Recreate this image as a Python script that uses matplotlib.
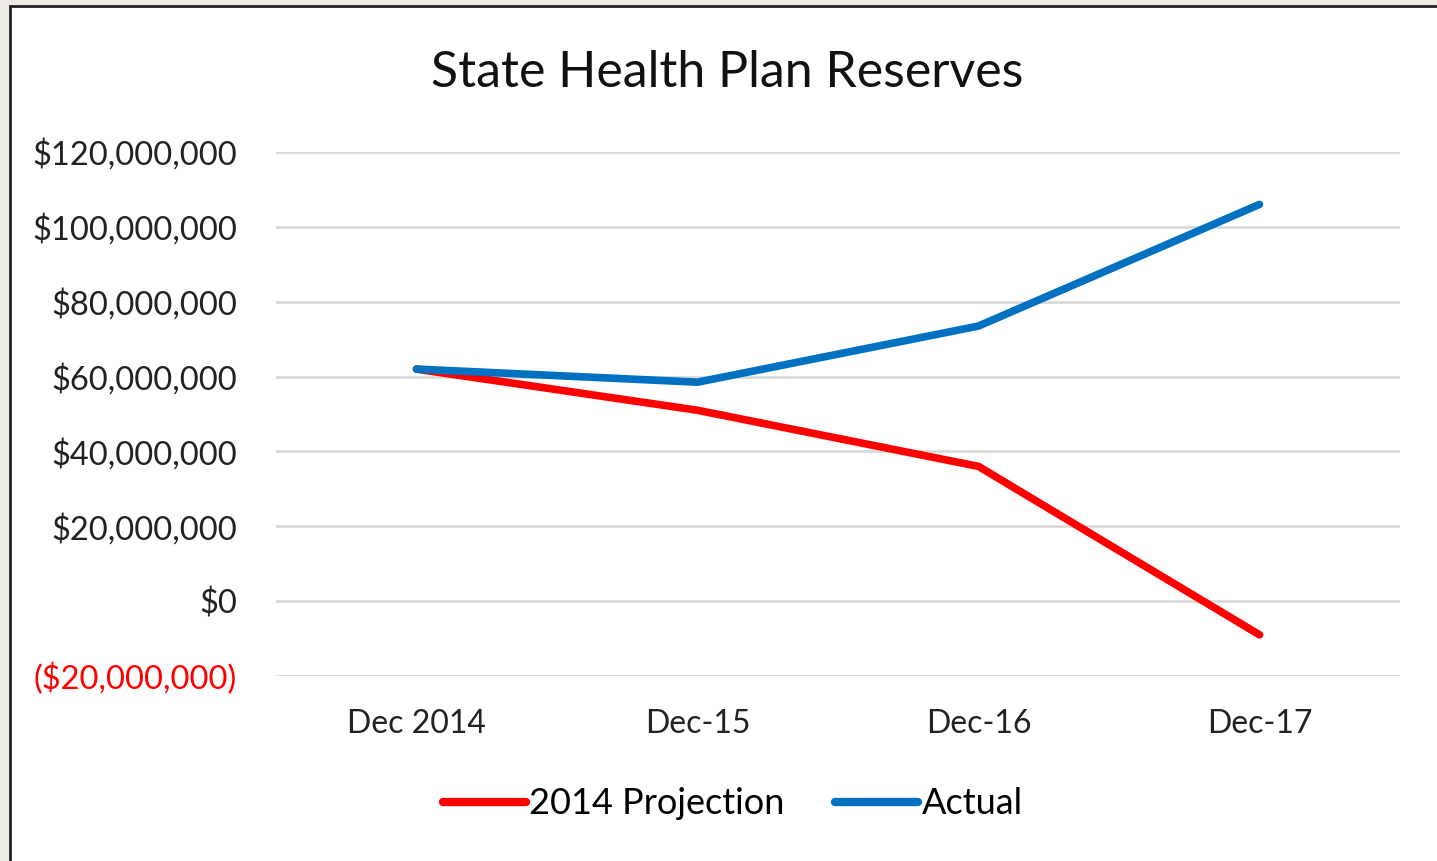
import matplotlib

matplotlib.use("Agg")

import matplotlib.pyplot as plt
from matplotlib.patches import Rectangle
from matplotlib.ticker import FuncFormatter, MultipleLocator

categories = ["Dec 2014", "Dec-15", "Dec-16", "Dec-17"]
projection_2014 = [62_000_000, 51_000_000, 36_000_000, -9_000_000]
actual = [62_000_000, 58_500_000, 73_500_000, 106_000_000]

plt.rcParams["font.family"] = ["Lato", "DejaVu Sans"]

W, H = 1437, 861
fig = plt.figure(figsize=(W / 100, H / 100), dpi=100, facecolor="#EEEBE4")

# white chart panel with the dark frame on the left/top
panel = Rectangle((10 / W, -0.05), 1.1, 1 - 6 / H + 0.05, transform=fig.transFigure,
                  facecolor="white", edgecolor="#222222", linewidth=2, zorder=-5)
fig.add_artist(panel)

ax = fig.add_axes([276 / W, 1 - 676 / H, (1400 - 276) / W, (676 - 152) / H])
ax.set_facecolor("none")

x = range(len(categories))
ax.plot(x, projection_2014, color="#FF0000", linewidth=5.5, solid_capstyle="round",
        label="2014 Projection", zorder=3)
ax.plot(x, actual, color="#0070C0", linewidth=5.5, solid_capstyle="round",
        label="Actual", zorder=3)

ax.set_xlim(-0.5, len(categories) - 0.5)
ax.set_ylim(-20_000_000, 120_000_000)
ax.yaxis.set_major_locator(MultipleLocator(20_000_000))


def money(v, _pos):
    if v < 0:
        return f"(${-v:,.0f})"
    return f"${v:,.0f}"


ax.yaxis.set_major_formatter(FuncFormatter(money))
ax.set_xticks(list(x), categories)
ax.tick_params(axis="both", length=0, colors="#222222")
ax.tick_params(axis="y", pad=28, labelsize=23.5)
ax.tick_params(axis="x", pad=24, labelsize=23)
fig.canvas.draw()
for lbl in ax.get_yticklabels():
    if lbl.get_text().startswith("("):
        lbl.set_color("#FF0000")

ax.grid(True, axis="y", color="#D9D9D9", linewidth=2)
ax.set_axisbelow(True)
for s in ax.spines.values():
    s.set_visible(False)

fig.text(727 / W, 1 - 73 / H, "State Health Plan Reserves", ha="center", va="center",
         fontsize=36, color="#111111")

leg = fig.legend(loc="center", bbox_to_anchor=(733 / W, 1 - 804 / H), ncol=2, frameon=False,
                 fontsize=26, handlelength=2.3, handletextpad=0.1, columnspacing=1.4)
for h in leg.get_lines():
    h.set_linewidth(6)

fig.savefig("out.png", dpi=100, facecolor=fig.get_facecolor())
